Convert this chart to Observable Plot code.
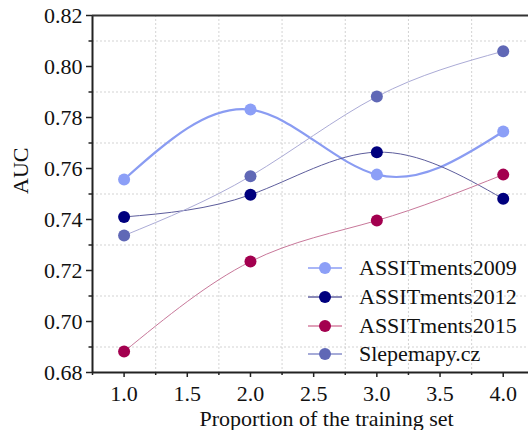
<!DOCTYPE html>
<html>
<head>
<meta charset="utf-8">
<script src="https://cdn.jsdelivr.net/npm/d3@7"></script>
<script src="https://cdn.jsdelivr.net/npm/@observablehq/plot@0.6"></script>
<style>
  html, body { margin: 0; padding: 0; background: #fff; }
  #wrap { position: relative; width: 528px; height: 430px; overflow: hidden; }
  #chart svg, #chart svg text { font-family: "Liberation Serif", "Times New Roman", serif !important; }
  #legend { position: absolute; left: 306px; top: 254px; font-family: "Liberation Serif", "Times New Roman", serif; font-size: 22px; color: #111; }
  .row { display: flex; align-items: center; height: 28.7px; }
  .row svg { margin-right: 15px; }
</style>
</head>
<body>
<div id="wrap"><div id="chart"></div><div id="legend"></div></div>
<script>
const proportions = [1.0, 2.0, 3.0, 4.0];
const seriesNames = ["ASSITments2009", "ASSITments2012", "ASSITments2015", "Slepemapy.cz"];
const auc2009 = [0.7557, 0.7831, 0.7576, 0.7745];
const auc2012 = [0.7410, 0.7497, 0.7664, 0.7481];
const auc2015 = [0.6882, 0.7235, 0.7396, 0.7576];
const aucSlepemapy = [0.7337, 0.7570, 0.7882, 0.8060];
const xTickLabels = [1.0, 1.5, 2.0, 2.5, 3.0, 3.5, 4.0];
const xMinorTicks = [0.75, 1.25, 1.75, 2.25, 2.75, 3.25, 3.75, 4.25];
const yTickLabels = [0.68, 0.70, 0.72, 0.74, 0.76, 0.78, 0.80, 0.82];
const yMinorTicks = d3.range(69, 82, 2).map(d => d / 100);

const styles = [
  {dot: "#8c9ff7", line: "#8a9cf2", width: 2.2, legendLine: "#a9b6f7"},
  {dot: "#00007e", line: "#5d5d9c", width: 1, legendLine: "#8a8ab8"},
  {dot: "#a3004f", line: "#c8789a", width: 1, legendLine: "#e0a0b8"},
  {dot: "#6068b6", line: "#ababd6", width: 1, legendLine: "#a6abd8"}
];
const values = [auc2009, auc2012, auc2015, aucSlepemapy];
const data = values.flatMap((vals, i) => vals.map((v, j) => ({series: seriesNames[i], x: proportions[j], y: v, i})));

const font = "'Liberation Serif', 'Times New Roman', serif";
const plot = Plot.plot({
  width: 528,
  height: 430,
  marginLeft: 92,
  marginRight: 0,
  marginTop: 15,
  marginBottom: 58,
  style: {fontFamily: font, fontSize: "22px", color: "#111", background: "#fff"},
  x: {domain: [0.75, 4.2]},
  y: {domain: [0.68, 0.82]},
  marks: [
    Plot.gridX(xMinorTicks, {stroke: "#c8c8c8", strokeOpacity: 1, strokeDasharray: "2,2", strokeWidth: 0.8}),
    Plot.gridY(yMinorTicks, {stroke: "#c8c8c8", strokeOpacity: 1, strokeDasharray: "2,2", strokeWidth: 0.8}),
    ...values.map((vals, i) => Plot.line(data.filter(d => d.i === i), {
      x: "x", y: "y", curve: "natural", stroke: styles[i].line, strokeWidth: styles[i].width
    })),
    ...values.map((vals, i) => Plot.dot(data.filter(d => d.i === i), {
      x: "x", y: "y", r: 6, fill: styles[i].dot, stroke: "none"
    })),
    Plot.axisY({ticks: yTickLabels, tickFormat: d => d.toFixed(2), tickSize: 6, tickPadding: 4, label: null, stroke: "#222", strokeWidth: 1.5, fontSize: 22}),
    Plot.axisY({ticks: yMinorTicks, tickFormat: () => "", tickSize: 3.5, label: null, stroke: "#222", strokeWidth: 1.5}),
    Plot.axisX({ticks: xTickLabels, tickFormat: d => d.toFixed(1), tickSize: 5, tickPadding: 8, label: null, stroke: "#222", strokeWidth: 1.5, fontSize: 22}),
    Plot.axisX({ticks: xMinorTicks, tickFormat: () => "", tickSize: 3, label: null, stroke: "#222", strokeWidth: 1.5}),
    Plot.ruleX([0.75], {stroke: "#222", strokeWidth: 2}),
    Plot.ruleY([0.68], {stroke: "#222", strokeWidth: 2}),
    Plot.ruleY([0.82], {stroke: "#333", strokeWidth: 2}),
    Plot.text(["Proportion of the training set"], {frameAnchor: "bottom", lineAnchor: "middle", dy: 46, dx: 16, fontSize: 22, fill: "#111"}),
    Plot.text(["AUC"], {frameAnchor: "left", lineAnchor: "middle", dx: -72, rotate: -90, fontSize: 22, fill: "#111"})
  ]
});
document.getElementById("chart").appendChild(plot);

const legend = document.getElementById("legend");
seriesNames.forEach((name, i) => {
  const row = document.createElement("div");
  row.className = "row";
  row.innerHTML = `<svg width="38" height="14"><line x1="2" x2="36" y1="7" y2="7" stroke="${styles[i].legendLine}" stroke-width="2"/><circle cx="19" cy="7" r="6" fill="${styles[i].dot}"/></svg><span>${name}</span>`;
  legend.appendChild(row);
});
</script>
</body>
</html>
